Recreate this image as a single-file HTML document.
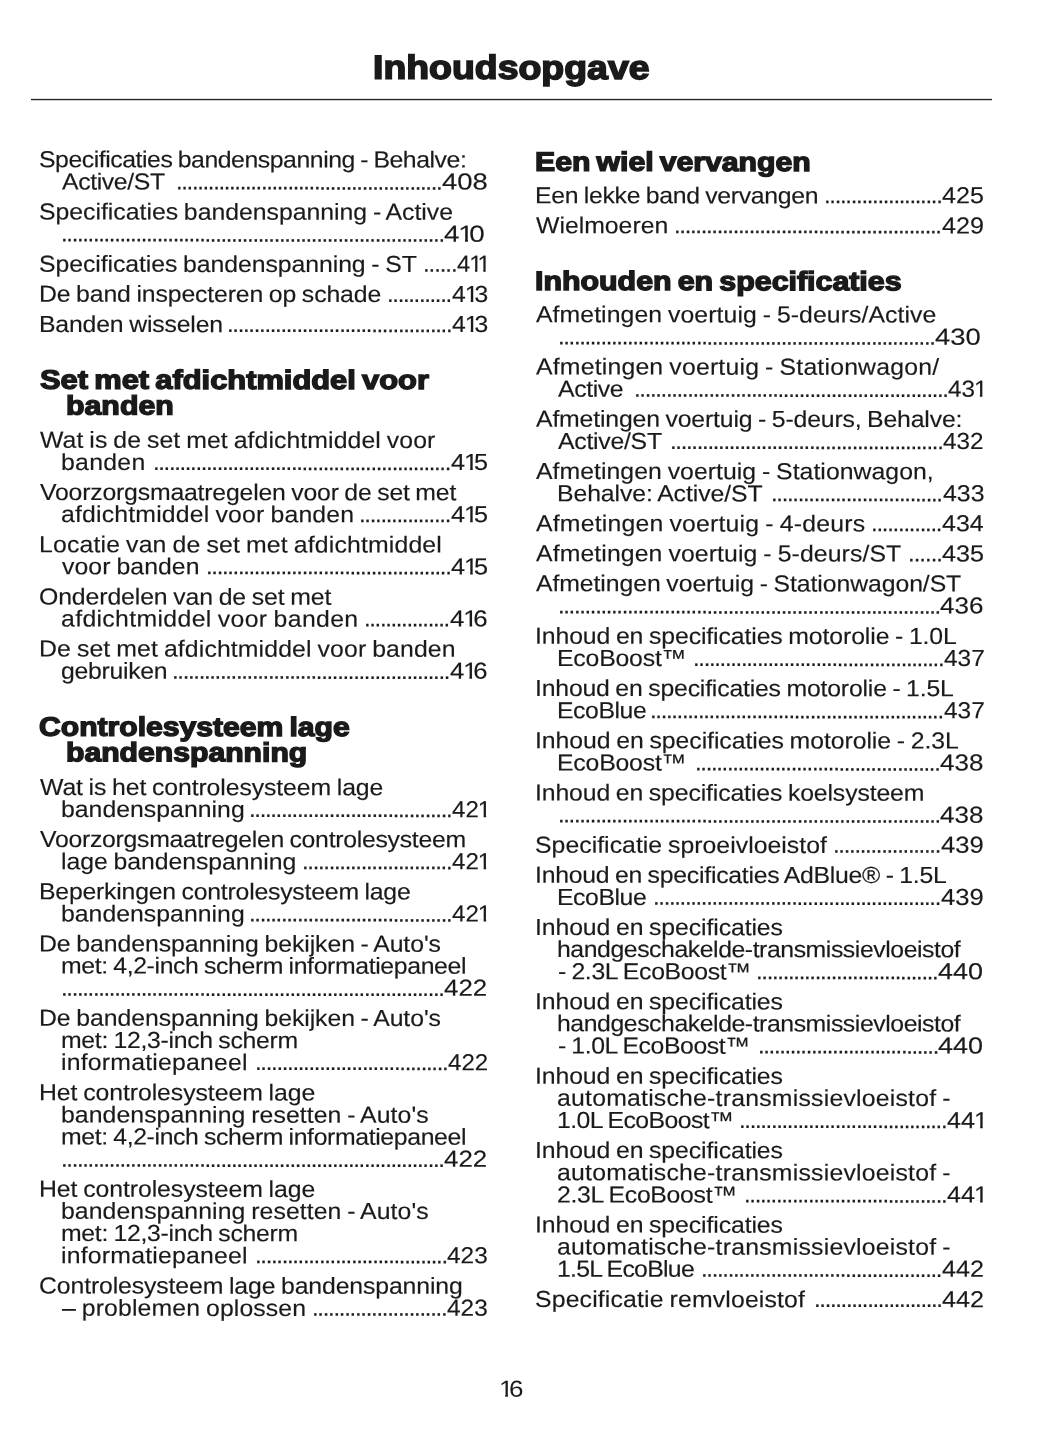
<!DOCTYPE html>
<html lang="nl"><head><meta charset="utf-8"><title>Inhoudsopgave</title>
<style>
html,body{margin:0;padding:0;background:#fff;}
h1,h2{margin:0;padding:0;}
body{width:1055px;height:1448px;position:relative;overflow:hidden;font-family:"Liberation Sans",sans-serif;color:#1a1a1a;}
.s{position:absolute;white-space:pre;line-height:1;text-rendering:geometricPrecision;font-size:23.2px;transform-origin:0 0;-webkit-text-stroke:0.15px #1a1a1a;}
.t{word-spacing:-1.0px;}
.d{font-size:24.0px;}
.n b{font-weight:normal;display:inline-block;margin:0 -3.8px 0 -1px;clip-path:polygon(0 0,.37em 0,.37em .725em,.348em .725em,.348em 1em,.244em 1em,.244em .725em,0 .725em);}
.h{font-weight:bold;font-size:26.7px;-webkit-text-stroke:1.4px #1a1a1a;word-spacing:-2.0px;}
.p{-webkit-text-stroke:0;}
.tt{font-weight:bold;font-size:33.5px;-webkit-text-stroke:1.6px #1a1a1a;}
.rule{position:absolute;left:31px;top:99px;width:961px;height:1px;background:#242424;box-shadow:0 1px 0 #cfcfcf,0 -1px 0 #e2e2e2;}
</style></head>
<body>
<div class="rule"></div>
<span class="s t" style="left:38.92px;top:148px;letter-spacing:-0.425px;transform:translateY(0.25px) skewY(0.05deg) scaleX(1.0700);">Specificaties bandenspanning - Behalve:</span>
<span class="s t" style="left:62.29px;top:170px;letter-spacing:-0.362px;transform:translateY(0.5px) skewY(0.05deg) scaleX(1.0700);">Active/ST</span>
<span class="s d" style="left:175.72px;top:170px;letter-spacing:-1.363px;transform:translateY(0.5px) skewY(0.05deg) scaleX(1.0000);">..................................................</span>
<span class="s n" style="left:441.77px;top:170px;transform:translateY(0.5px) skewY(0.05deg) scaleX(1.1857);">408</span>
<span class="s t" style="left:38.92px;top:200px;letter-spacing:-0.017px;transform:translateY(0.5px) skewY(0.05deg) scaleX(1.0700);">Specificaties bandenspanning - Active</span>
<span class="s d" style="left:60.72px;top:222px;letter-spacing:-1.352px;transform:translateY(0.5px) skewY(0.05deg) scaleX(1.0000);">........................................................................</span>
<span class="s n" style="left:444.27px;top:222px;transform:translateY(0.75px) skewY(0.05deg) scaleX(1.1984);">4<b>1</b>0</span>
<span class="s t" style="left:38.92px;top:252px;letter-spacing:-0.067px;transform:translateY(0.75px) skewY(0.05deg) scaleX(1.0700);">Specificaties bandenspanning - ST</span>
<span class="s d" style="left:423.22px;top:252px;letter-spacing:-1.081px;transform:translateY(0.75px) skewY(0.05deg) scaleX(1.0000);">......</span>
<span class="s n" style="left:457.32px;top:252px;transform:translateY(0.75px) skewY(0.05deg) scaleX(1.0220);">4<b>1</b><b>1</b></span>
<span class="s t" style="left:38.75px;top:282px;letter-spacing:-0.130px;transform:translateY(0.75px) skewY(0.05deg) scaleX(1.0700);">De band inspecteren op schade</span>
<span class="s d" style="left:387.22px;top:283px;letter-spacing:-1.355px;transform:skewY(0.05deg) scaleX(1.0000);">............</span>
<span class="s n" style="left:451.80px;top:283px;transform:skewY(0.05deg) scaleX(1.0651);">4<b>1</b>3</span>
<span class="s t" style="left:38.75px;top:313px;letter-spacing:-0.163px;transform:skewY(0.05deg) scaleX(1.0700);">Banden wisselen</span>
<span class="s d" style="left:226.72px;top:313px;letter-spacing:-1.328px;transform:skewY(0.05deg) scaleX(1.0000);">..........................................</span>
<span class="s n" style="left:451.80px;top:313px;transform:skewY(0.05deg) scaleX(1.0651);">4<b>1</b>3</span>
<h2 class="s h" style="left:39.73px;top:366px;transform:translateY(0.75px) skewY(0.05deg) scaleX(1.1556);">Set met afdichtmiddel voor</h2>
<h2 class="s h" style="left:66.40px;top:392px;transform:translateY(0.5px) skewY(0.05deg) scaleX(1.1358);">banden</h2>
<span class="s t" style="left:40.09px;top:428px;letter-spacing:0.073px;transform:translateY(0.75px) skewY(0.05deg) scaleX(1.0700);">Wat is de set met afdichtmiddel voor</span>
<span class="s t" style="left:61.14px;top:451px;letter-spacing:0.261px;transform:skewY(0.05deg) scaleX(1.0700);">banden</span>
<span class="s d" style="left:153.22px;top:451px;letter-spacing:-1.365px;transform:skewY(0.05deg) scaleX(1.0000);">........................................................</span>
<span class="s n" style="left:451.00px;top:451px;transform:skewY(0.05deg) scaleX(1.0895);">4<b>1</b>5</span>
<span class="s t" style="left:40.09px;top:481px;letter-spacing:-0.186px;transform:skewY(0.05deg) scaleX(1.0700);">Voorzorgsmaatregelen voor de set met</span>
<span class="s t" style="left:61.22px;top:503px;letter-spacing:0.164px;transform:skewY(0.05deg) scaleX(1.0700);">afdichtmiddel voor banden</span>
<span class="s d" style="left:359.22px;top:503px;letter-spacing:-1.316px;transform:translateY(0.25px) skewY(0.05deg) scaleX(1.0000);">.................</span>
<span class="s n" style="left:451.00px;top:503px;transform:translateY(0.25px) skewY(0.05deg) scaleX(1.0895);">4<b>1</b>5</span>
<span class="s t" style="left:38.75px;top:533px;letter-spacing:0.146px;transform:translateY(0.25px) skewY(0.05deg) scaleX(1.0700);">Locatie van de set met afdichtmiddel</span>
<span class="s t" style="left:62.29px;top:555px;letter-spacing:0.061px;transform:translateY(0.25px) skewY(0.05deg) scaleX(1.0700);">voor banden</span>
<span class="s d" style="left:205.72px;top:555px;letter-spacing:-1.354px;transform:translateY(0.25px) skewY(0.05deg) scaleX(1.0000);">..............................................</span>
<span class="s n" style="left:451.00px;top:555px;transform:translateY(0.5px) skewY(0.05deg) scaleX(1.0895);">4<b>1</b>5</span>
<span class="s t" style="left:38.53px;top:585px;letter-spacing:-0.104px;transform:translateY(0.5px) skewY(0.05deg) scaleX(1.0700);">Onderdelen van de set met</span>
<span class="s t" style="left:61.22px;top:607px;letter-spacing:0.320px;transform:translateY(0.5px) skewY(0.05deg) scaleX(1.0700);">afdichtmiddel voor banden</span>
<span class="s d" style="left:364.22px;top:607px;letter-spacing:-1.365px;transform:translateY(0.5px) skewY(0.05deg) scaleX(1.0000);">................</span>
<span class="s n" style="left:449.89px;top:607px;transform:translateY(0.5px) skewY(0.05deg) scaleX(1.1109);">4<b>1</b>6</span>
<span class="s t" style="left:38.75px;top:637px;letter-spacing:0.108px;transform:translateY(0.5px) skewY(0.05deg) scaleX(1.0700);">De set met afdichtmiddel voor banden</span>
<span class="s t" style="left:61.22px;top:659px;letter-spacing:-0.275px;transform:translateY(0.75px) skewY(0.05deg) scaleX(1.0700);">gebruiken</span>
<span class="s d" style="left:172.22px;top:659px;letter-spacing:-1.340px;transform:translateY(0.75px) skewY(0.05deg) scaleX(1.0000);">....................................................</span>
<span class="s n" style="left:450.10px;top:659px;transform:translateY(0.75px) skewY(0.05deg) scaleX(1.1048);">4<b>1</b>6</span>
<h2 class="s h" style="left:39.25px;top:713px;transform:translateY(0.75px) skewY(0.05deg) scaleX(1.1285);">Controlesysteem lage</h2>
<h2 class="s h" style="left:66.42px;top:739px;transform:translateY(0.25px) skewY(0.05deg) scaleX(1.1299);">bandenspanning</h2>
<span class="s t" style="left:40.09px;top:776px;letter-spacing:-0.096px;transform:skewY(0.05deg) scaleX(1.0700);">Wat is het controlesysteem lage</span>
<span class="s t" style="left:61.14px;top:798px;letter-spacing:0.013px;transform:skewY(0.05deg) scaleX(1.0700);">bandenspanning</span>
<span class="s d" style="left:249.22px;top:798px;letter-spacing:-1.345px;transform:skewY(0.05deg) scaleX(1.0000);">......................................</span>
<span class="s n" style="left:452.31px;top:798px;transform:translateY(0.25px) skewY(0.05deg) scaleX(1.0378);">42<b>1</b></span>
<span class="s t" style="left:40.09px;top:828px;letter-spacing:-0.266px;transform:skewY(0.05deg) scaleX(1.0700);">Voorzorgsmaatregelen controlesysteem</span>
<span class="s t" style="left:61.14px;top:850px;letter-spacing:-0.054px;transform:translateY(0.25px) skewY(0.05deg) scaleX(1.0700);">lage bandenspanning</span>
<span class="s d" style="left:302.22px;top:850px;letter-spacing:-1.337px;transform:translateY(0.25px) skewY(0.05deg) scaleX(1.0000);">............................</span>
<span class="s n" style="left:452.31px;top:850px;transform:translateY(0.25px) skewY(0.05deg) scaleX(1.0378);">42<b>1</b></span>
<span class="s t" style="left:38.75px;top:880px;letter-spacing:-0.206px;transform:translateY(0.25px) skewY(0.05deg) scaleX(1.0700);">Beperkingen controlesysteem lage</span>
<span class="s t" style="left:61.14px;top:902px;letter-spacing:0.013px;transform:translateY(0.5px) skewY(0.05deg) scaleX(1.0700);">bandenspanning</span>
<span class="s d" style="left:249.22px;top:902px;letter-spacing:-1.345px;transform:translateY(0.5px) skewY(0.05deg) scaleX(1.0000);">......................................</span>
<span class="s n" style="left:452.31px;top:902px;transform:translateY(0.5px) skewY(0.05deg) scaleX(1.0378);">42<b>1</b></span>
<span class="s t" style="left:38.75px;top:932px;letter-spacing:-0.073px;transform:translateY(0.5px) skewY(0.05deg) scaleX(1.0700);">De bandenspanning bekijken - Auto's</span>
<span class="s t" style="left:61.14px;top:954px;letter-spacing:-0.346px;transform:translateY(0.5px) skewY(0.05deg) scaleX(1.0700);">met: 4,2-inch scherm informatiepaneel</span>
<span class="s d" style="left:60.72px;top:976px;letter-spacing:-1.354px;transform:translateY(0.75px) skewY(0.05deg) scaleX(1.0000);">........................................................................</span>
<span class="s n" style="left:444.19px;top:976px;transform:translateY(0.75px) skewY(0.05deg) scaleX(1.1164);">422</span>
<span class="s t" style="left:38.75px;top:1006px;letter-spacing:-0.073px;transform:translateY(0.75px) skewY(0.05deg) scaleX(1.0700);">De bandenspanning bekijken - Auto's</span>
<span class="s t" style="left:61.14px;top:1029px;letter-spacing:-0.290px;transform:skewY(0.05deg) scaleX(1.0700);">met: 12,3-inch scherm</span>
<span class="s t" style="left:61.14px;top:1051px;letter-spacing:0.187px;transform:skewY(0.05deg) scaleX(1.0700);">informatiepaneel</span>
<span class="s d" style="left:254.72px;top:1051px;letter-spacing:-1.324px;transform:skewY(0.05deg) scaleX(1.0000);">....................................</span>
<span class="s n" style="left:447.92px;top:1051px;transform:translateY(0.25px) skewY(0.05deg) scaleX(1.0391);">422</span>
<span class="s t" style="left:38.75px;top:1081px;letter-spacing:-0.066px;transform:translateY(0.25px) skewY(0.05deg) scaleX(1.0700);">Het controlesysteem lage</span>
<span class="s t" style="left:61.14px;top:1103px;letter-spacing:0.057px;transform:translateY(0.5px) skewY(0.05deg) scaleX(1.0700);">bandenspanning resetten - Auto's</span>
<span class="s t" style="left:61.14px;top:1125px;letter-spacing:-0.346px;transform:translateY(0.5px) skewY(0.05deg) scaleX(1.0700);">met: 4,2-inch scherm informatiepaneel</span>
<span class="s d" style="left:60.72px;top:1147px;letter-spacing:-1.354px;transform:translateY(0.75px) skewY(0.05deg) scaleX(1.0000);">........................................................................</span>
<span class="s n" style="left:444.19px;top:1147px;transform:translateY(0.75px) skewY(0.05deg) scaleX(1.1164);">422</span>
<span class="s t" style="left:38.75px;top:1177px;letter-spacing:-0.066px;transform:translateY(0.75px) skewY(0.05deg) scaleX(1.0700);">Het controlesysteem lage</span>
<span class="s t" style="left:61.14px;top:1199px;letter-spacing:0.057px;transform:translateY(0.75px) skewY(0.05deg) scaleX(1.0700);">bandenspanning resetten - Auto's</span>
<span class="s t" style="left:61.14px;top:1222px;letter-spacing:-0.290px;transform:skewY(0.05deg) scaleX(1.0700);">met: 12,3-inch scherm</span>
<span class="s t" style="left:61.14px;top:1244px;letter-spacing:0.187px;transform:translateY(0.25px) skewY(0.05deg) scaleX(1.0700);">informatiepaneel</span>
<span class="s d" style="left:254.72px;top:1244px;letter-spacing:-1.341px;transform:translateY(0.25px) skewY(0.05deg) scaleX(1.0000);">....................................</span>
<span class="s n" style="left:447.31px;top:1244px;transform:translateY(0.25px) skewY(0.05deg) scaleX(1.0524);">423</span>
<span class="s t" style="left:38.53px;top:1274px;letter-spacing:-0.121px;transform:translateY(0.5px) skewY(0.05deg) scaleX(1.0700);">Controlesysteem lage bandenspanning</span>
<span class="s t" style="left:62.29px;top:1296px;letter-spacing:0.101px;transform:translateY(0.75px) skewY(0.05deg) scaleX(1.0700);">– problemen oplossen</span>
<span class="s d" style="left:312.22px;top:1296px;letter-spacing:-1.295px;transform:translateY(0.75px) skewY(0.05deg) scaleX(1.0000);">.........................</span>
<span class="s n" style="left:447.31px;top:1296px;transform:translateY(0.75px) skewY(0.05deg) scaleX(1.0524);">423</span>
<h2 class="s h" style="left:534.91px;top:148px;transform:translateY(0.75px) skewY(0.05deg) scaleX(1.1315);">Een wiel vervangen</h2>
<span class="s t" style="left:534.75px;top:184px;letter-spacing:-0.285px;transform:translateY(0.25px) skewY(0.05deg) scaleX(1.0700);">Een lekke band vervangen</span>
<span class="s d" style="left:824.22px;top:184px;letter-spacing:-1.328px;transform:translateY(0.25px) skewY(0.05deg) scaleX(1.0000);">......................</span>
<span class="s n" style="left:942.49px;top:184px;transform:translateY(0.25px) skewY(0.05deg) scaleX(1.0818);">425</span>
<span class="s t" style="left:536.09px;top:214px;letter-spacing:-0.014px;transform:translateY(0.25px) skewY(0.05deg) scaleX(1.0700);">Wielmoeren</span>
<span class="s d" style="left:674.22px;top:214px;letter-spacing:-1.334px;transform:translateY(0.25px) skewY(0.05deg) scaleX(1.0000);">..................................................</span>
<span class="s n" style="left:941.70px;top:214px;transform:translateY(0.5px) skewY(0.05deg) scaleX(1.0845);">429</span>
<h2 class="s h" style="left:534.91px;top:268px;transform:skewY(0.05deg) scaleX(1.1375);">Inhouden en specificaties</h2>
<span class="s t" style="left:536.09px;top:303px;letter-spacing:0.060px;transform:translateY(0.25px) skewY(0.05deg) scaleX(1.0700);">Afmetingen voertuig - 5-deurs/Active</span>
<span class="s d" style="left:557.72px;top:325px;letter-spacing:-1.365px;transform:translateY(0.5px) skewY(0.05deg) scaleX(1.0000);">.......................................................................</span>
<span class="s n" style="left:935.06px;top:325px;transform:translateY(0.75px) skewY(0.05deg) scaleX(1.1822);">430</span>
<span class="s t" style="left:536.09px;top:355px;letter-spacing:0.173px;transform:translateY(0.5px) skewY(0.05deg) scaleX(1.0700);">Afmetingen voertuig - Stationwagon/</span>
<span class="s t" style="left:558.29px;top:377px;letter-spacing:-0.359px;transform:translateY(0.75px) skewY(0.05deg) scaleX(1.0700);">Active</span>
<span class="s d" style="left:633.72px;top:377px;letter-spacing:-1.352px;transform:translateY(0.75px) skewY(0.05deg) scaleX(1.0000);">...........................................................</span>
<span class="s n" style="left:948.21px;top:377px;transform:translateY(0.75px) skewY(0.05deg) scaleX(1.0471);">43<b>1</b></span>
<span class="s t" style="left:536.09px;top:407px;letter-spacing:-0.158px;transform:translateY(0.75px) skewY(0.05deg) scaleX(1.0700);">Afmetingen voertuig - 5-deurs, Behalve:</span>
<span class="s t" style="left:558.29px;top:430px;letter-spacing:-0.245px;transform:skewY(0.05deg) scaleX(1.0700);">Active/ST</span>
<span class="s d" style="left:670.22px;top:430px;letter-spacing:-1.325px;transform:skewY(0.05deg) scaleX(1.0000);">...................................................</span>
<span class="s n" style="left:943.49px;top:430px;transform:skewY(0.05deg) scaleX(1.0471);">432</span>
<span class="s t" style="left:536.09px;top:460px;letter-spacing:0.026px;transform:skewY(0.05deg) scaleX(1.0700);">Afmetingen voertuig - Stationwagon,</span>
<span class="s t" style="left:556.75px;top:482px;letter-spacing:-0.087px;transform:translateY(0.25px) skewY(0.05deg) scaleX(1.0700);">Behalve: Active/ST</span>
<span class="s d" style="left:771.22px;top:482px;letter-spacing:-1.335px;transform:translateY(0.25px) skewY(0.05deg) scaleX(1.0000);">................................</span>
<span class="s n" style="left:942.70px;top:482px;transform:translateY(0.25px) skewY(0.05deg) scaleX(1.0738);">433</span>
<span class="s t" style="left:536.09px;top:512px;letter-spacing:0.183px;transform:translateY(0.25px) skewY(0.05deg) scaleX(1.0700);">Afmetingen voertuig - 4-deurs</span>
<span class="s d" style="left:871.22px;top:512px;letter-spacing:-1.265px;transform:translateY(0.25px) skewY(0.05deg) scaleX(1.0000);">.............</span>
<span class="s n" style="left:942.20px;top:512px;transform:translateY(0.25px) skewY(0.05deg) scaleX(1.0767);">434</span>
<span class="s t" style="left:536.09px;top:542px;letter-spacing:0.091px;transform:translateY(0.25px) skewY(0.05deg) scaleX(1.0700);">Afmetingen voertuig - 5-deurs/ST</span>
<span class="s d" style="left:907.72px;top:542px;letter-spacing:-1.001px;transform:translateY(0.5px) skewY(0.05deg) scaleX(1.0000);">......</span>
<span class="s n" style="left:942.20px;top:542px;transform:translateY(0.5px) skewY(0.05deg) scaleX(1.0871);">435</span>
<span class="s t" style="left:536.09px;top:572px;letter-spacing:-0.083px;transform:translateY(0.25px) skewY(0.05deg) scaleX(1.0700);">Afmetingen voertuig - Stationwagon/ST</span>
<span class="s d" style="left:557.72px;top:594px;letter-spacing:-1.364px;transform:translateY(0.5px) skewY(0.05deg) scaleX(1.0000);">........................................................................</span>
<span class="s n" style="left:940.48px;top:594px;transform:translateY(0.5px) skewY(0.05deg) scaleX(1.1217);">436</span>
<span class="s t" style="left:534.75px;top:624px;letter-spacing:-0.108px;transform:translateY(0.75px) skewY(0.05deg) scaleX(1.0700);">Inhoud en specificaties motorolie - 1.0L</span>
<span class="s t" style="left:556.75px;top:647px;letter-spacing:-0.190px;transform:skewY(0.05deg) scaleX(1.0700);">EcoBoost™</span>
<span class="s d" style="left:692.72px;top:647px;letter-spacing:-1.344px;transform:skewY(0.05deg) scaleX(1.0000);">...............................................</span>
<span class="s n" style="left:943.81px;top:647px;transform:skewY(0.05deg) scaleX(1.0524);">437</span>
<span class="s t" style="left:534.75px;top:677px;letter-spacing:-0.180px;transform:skewY(0.05deg) scaleX(1.0700);">Inhoud en specificaties motorolie - 1.5L</span>
<span class="s t" style="left:556.75px;top:699px;letter-spacing:-0.424px;transform:translateY(0.25px) skewY(0.05deg) scaleX(1.0700);">EcoBlue</span>
<span class="s d" style="left:650.22px;top:699px;letter-spacing:-1.345px;transform:translateY(0.25px) skewY(0.05deg) scaleX(1.0000);">.......................................................</span>
<span class="s n" style="left:943.81px;top:699px;transform:translateY(0.25px) skewY(0.05deg) scaleX(1.0524);">437</span>
<span class="s t" style="left:534.75px;top:729px;letter-spacing:-0.060px;transform:translateY(0.25px) skewY(0.05deg) scaleX(1.0700);">Inhoud en specificaties motorolie - 2.3L</span>
<span class="s t" style="left:556.75px;top:751px;letter-spacing:-0.190px;transform:translateY(0.5px) skewY(0.05deg) scaleX(1.0700);">EcoBoost™</span>
<span class="s d" style="left:695.22px;top:751px;letter-spacing:-1.354px;transform:translateY(0.5px) skewY(0.05deg) scaleX(1.0000);">..............................................</span>
<span class="s n" style="left:940.48px;top:751px;transform:translateY(0.5px) skewY(0.05deg) scaleX(1.1217);">438</span>
<span class="s t" style="left:534.75px;top:781px;letter-spacing:-0.125px;transform:translateY(0.5px) skewY(0.05deg) scaleX(1.0700);">Inhoud en specificaties koelsysteem</span>
<span class="s d" style="left:557.72px;top:803px;letter-spacing:-1.364px;transform:translateY(0.5px) skewY(0.05deg) scaleX(1.0000);">........................................................................</span>
<span class="s n" style="left:940.48px;top:803px;transform:translateY(0.75px) skewY(0.05deg) scaleX(1.1217);">438</span>
<span class="s t" style="left:534.92px;top:833px;letter-spacing:0.022px;transform:translateY(0.75px) skewY(0.05deg) scaleX(1.0700);">Specificatie sproeivloeistof</span>
<span class="s d" style="left:833.22px;top:833px;letter-spacing:-1.319px;transform:translateY(0.75px) skewY(0.05deg) scaleX(1.0000);">....................</span>
<span class="s n" style="left:940.99px;top:833px;transform:translateY(0.75px) skewY(0.05deg) scaleX(1.1058);">439</span>
<span class="s t" style="left:534.75px;top:863px;letter-spacing:-0.237px;transform:translateY(0.75px) skewY(0.05deg) scaleX(1.0700);">Inhoud en specificaties AdBlue® - 1.5L</span>
<span class="s t" style="left:556.75px;top:886px;letter-spacing:-0.424px;transform:skewY(0.05deg) scaleX(1.0700);">EcoBlue</span>
<span class="s d" style="left:653.22px;top:885px;letter-spacing:-1.354px;transform:translateY(0.75px) skewY(0.05deg) scaleX(1.0000);">......................................................</span>
<span class="s n" style="left:940.99px;top:886px;transform:skewY(0.05deg) scaleX(1.1058);">439</span>
<span class="s t" style="left:534.75px;top:916px;letter-spacing:-0.099px;transform:skewY(0.05deg) scaleX(1.0700);">Inhoud en specificaties</span>
<span class="s t" style="left:557.14px;top:938px;letter-spacing:-0.415px;transform:skewY(0.05deg) scaleX(1.0700);">handgeschakelde-transmissievloeistof</span>
<span class="s t" style="left:557.51px;top:960px;letter-spacing:-0.321px;transform:translateY(0.25px) skewY(0.05deg) scaleX(1.0700);">- 2.3L EcoBoost™</span>
<span class="s d" style="left:756.22px;top:960px;letter-spacing:-1.331px;transform:translateY(0.25px) skewY(0.05deg) scaleX(1.0000);">..................................</span>
<span class="s n" style="left:938.47px;top:960px;transform:translateY(0.25px) skewY(0.05deg) scaleX(1.1638);">440</span>
<span class="s t" style="left:534.75px;top:990px;letter-spacing:-0.099px;transform:translateY(0.25px) skewY(0.05deg) scaleX(1.0700);">Inhoud en specificaties</span>
<span class="s t" style="left:557.14px;top:1012px;letter-spacing:-0.415px;transform:translateY(0.25px) skewY(0.05deg) scaleX(1.0700);">handgeschakelde-transmissievloeistof</span>
<span class="s t" style="left:557.51px;top:1034px;letter-spacing:-0.384px;transform:translateY(0.5px) skewY(0.05deg) scaleX(1.0700);">- 1.0L EcoBoost™</span>
<span class="s d" style="left:757.72px;top:1034px;letter-spacing:-1.376px;transform:translateY(0.5px) skewY(0.05deg) scaleX(1.0000);">..................................</span>
<span class="s n" style="left:938.47px;top:1034px;transform:translateY(0.5px) skewY(0.05deg) scaleX(1.1638);">440</span>
<span class="s t" style="left:534.75px;top:1064px;letter-spacing:-0.099px;transform:translateY(0.75px) skewY(0.05deg) scaleX(1.0700);">Inhoud en specificaties</span>
<span class="s t" style="left:557.22px;top:1086px;letter-spacing:0.199px;transform:translateY(0.75px) skewY(0.05deg) scaleX(1.0700);">automatische-transmissievloeistof -</span>
<span class="s t" style="left:556.74px;top:1109px;letter-spacing:-0.524px;transform:skewY(0.05deg) scaleX(1.0700);">1.0L EcoBoost™</span>
<span class="s d" style="left:738.72px;top:1109px;letter-spacing:-1.354px;transform:skewY(0.05deg) scaleX(1.0000);">.......................................</span>
<span class="s n" style="left:946.79px;top:1109px;transform:translateY(0.25px) skewY(0.05deg) scaleX(1.0871);">44<b>1</b></span>
<span class="s t" style="left:534.75px;top:1139px;letter-spacing:-0.099px;transform:skewY(0.05deg) scaleX(1.0700);">Inhoud en specificaties</span>
<span class="s t" style="left:557.22px;top:1161px;letter-spacing:0.199px;transform:translateY(0.25px) skewY(0.05deg) scaleX(1.0700);">automatische-transmissievloeistof -</span>
<span class="s t" style="left:557.12px;top:1183px;letter-spacing:-0.301px;transform:translateY(0.5px) skewY(0.05deg) scaleX(1.0700);">2.3L EcoBoost™</span>
<span class="s d" style="left:743.72px;top:1183px;letter-spacing:-1.345px;transform:translateY(0.5px) skewY(0.05deg) scaleX(1.0000);">......................................</span>
<span class="s n" style="left:946.79px;top:1183px;transform:translateY(0.5px) skewY(0.05deg) scaleX(1.0871);">44<b>1</b></span>
<span class="s t" style="left:534.75px;top:1213px;letter-spacing:-0.099px;transform:translateY(0.5px) skewY(0.05deg) scaleX(1.0700);">Inhoud en specificaties</span>
<span class="s t" style="left:557.22px;top:1235px;letter-spacing:0.199px;transform:translateY(0.5px) skewY(0.05deg) scaleX(1.0700);">automatische-transmissievloeistof -</span>
<span class="s t" style="left:556.74px;top:1257px;letter-spacing:-0.672px;transform:translateY(0.75px) skewY(0.05deg) scaleX(1.0700);">1.5L EcoBlue</span>
<span class="s d" style="left:701.22px;top:1257px;letter-spacing:-1.331px;transform:translateY(0.75px) skewY(0.05deg) scaleX(1.0000);">.............................................</span>
<span class="s n" style="left:942.20px;top:1257px;transform:translateY(0.75px) skewY(0.05deg) scaleX(1.0871);">442</span>
<span class="s t" style="left:534.92px;top:1288px;letter-spacing:0.135px;transform:skewY(0.05deg) scaleX(1.0700);">Specificatie remvloeistof</span>
<span class="s d" style="left:813.72px;top:1288px;letter-spacing:-1.349px;transform:skewY(0.05deg) scaleX(1.0000);">........................</span>
<span class="s n" style="left:942.20px;top:1288px;transform:translateY(0.25px) skewY(0.05deg) scaleX(1.0871);">442</span>
<h1 class="s tt" style="left:373.16px;top:51px;transform:translateY(0.75px) skewY(0.05deg) scaleX(1.1170);">Inhoudsopgave</h1>
<span class="s n p" style="left:499.80px;top:1377px;transform:translateY(0.75px) skewY(0.05deg) scaleX(1.1212);"><b>1</b>6</span>
</body></html>
